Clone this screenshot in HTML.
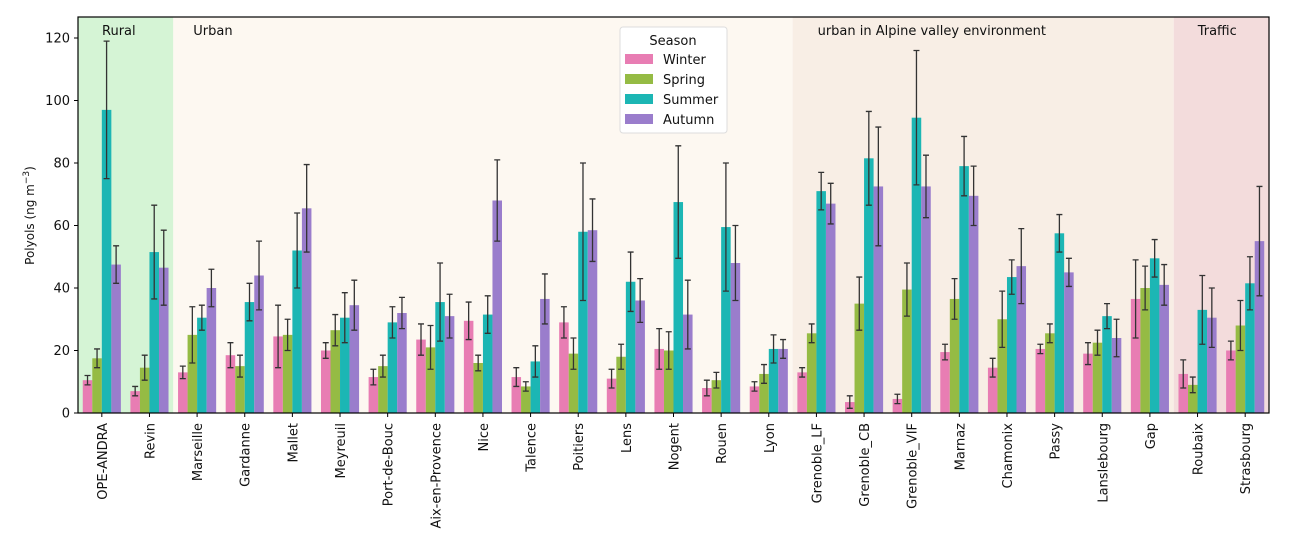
<!DOCTYPE html>
<html><head><meta charset="utf-8"><style>
body{margin:0;background:#fff;}
svg{display:block;font-family:"DejaVu Sans","Liberation Sans",sans-serif;}
</style></head><body>
<svg id="chart" width="1290" height="554"></svg>
<script>
const sites=["OPE-ANDRA","Revin","Marseille","Gardanne","Mallet","Meyreuil","Port-de-Bouc","Aix-en-Provence","Nice","Talence","Poitiers","Lens","Nogent","Rouen","Lyon","Grenoble_LF","Grenoble_CB","Grenoble_VIF","Marnaz","Chamonix","Passy","Lanslebourg","Gap","Roubaix","Strasbourg"];
const seasons=["Winter","Spring","Summer","Autumn"];
const winter=[10.5,7,13,18.5,24.5,20,11.5,23.5,29.5,11.5,29,11,20.5,8,8.5,13,3.5,4.5,19.5,14.5,20.5,19,36.5,12.5,20];
const spring=[17.5,14.5,25,15,25,26.5,15,21,16,8.5,19,18,20,10.5,12.5,25.5,35,39.5,36.5,30,25.5,22.5,40,9,28];
const summer=[97,51.5,30.5,35.5,52,30.5,29,35.5,31.5,16.5,58,42,67.5,59.5,20.5,71,81.5,94.5,79,43.5,57.5,31,49.5,33,41.5];
const autumn=[47.5,46.5,40,44,65.5,34.5,32,31,68,36.5,58.5,36,31.5,48,20.5,67,72.5,72.5,69.5,47,45,24,41,30.5,55];
const winterErr=[1.5,1.5,2,4,10,2.5,2.5,5,6,3,5,3,6.5,2.5,1.5,1.5,2,1.5,2.5,3,1.5,3.5,12.5,4.5,3];
const springErr=[3,4,9,3.5,5,5,3.5,7,2.5,1.5,5,4,6,2.5,3,3,8.5,8.5,6.5,9,3,4,7,2.5,8];
const summerErr=[22,15,4,6,12,8,5,12.5,6,5,22,9.5,18,20.5,4.5,6,15,21.5,9.5,5.5,6,4,6,11,8.5];
const autumnErr=[6,12,6,11,14,8,5,7,13,8,10,7,11,12,3,6.5,19,10,9.5,12,4.5,6,6.5,9.5,17.5];
const yTicks=[0,20,40,60,80,100,120];
const regions=[{label:"Rural",from:0,to:2,color:"#d5f4d5"},{label:"Urban",from:2,to:15,color:"#fdf8f1"},{label:"urban in Alpine  valley environment",from:15,to:23,color:"#f8eee5"},{label:"Traffic",from:23,to:25,color:"#f3dcdc"}];
const colors=["#e87db3","#95bb44","#1cb6b4","#9a7dcc"];

const svg=document.getElementById('chart');
const NS="http://www.w3.org/2000/svg";
const L=78,R=1269,T=38,B=413,yMax=120;
const step=(R-L)/sites.length;
const bw=step*0.8/4;
const X=i=>L+step*i;
const Y=v=>B-(v/yMax)*(B-T);
function mk(tag,attrs,parent){const e=document.createElementNS(NS,tag);for(const k in attrs)e.setAttribute(k,attrs[k]);(parent||svg).appendChild(e);return e;}

regions.forEach(r=>{
  const g=mk('g',{});
  
  
  mk('rect',{x:X(r.from),y:17,width:X(r.to)-X(r.from),height:B-17,fill:r.color},g);
  const x0=X(r.from)+(r.label.length>10?25:(r.label==="Urban"?20:24));
  const t=mk('text',{x:x0,y:35,'font-size':13,fill:'#111'},g);
  t.textContent=r.label;
});

const series=[winter,spring,summer,autumn];
const errs=[winterErr,springErr,summerErr,autumnErr];
series.forEach((vals,s)=>{
  const g=mk('g',{});
  
  
  vals.forEach((v,i)=>{
    const x=X(i)+step*0.1+bw*s;
    const r=mk('rect',{x:x,y:Y(v),width:bw,height:B-Y(v),fill:colors[s]},g);
    
    
    const e=errs[s][i],cx=x+bw/2;
    const eb=mk('path',{d:`M${cx},${Y(v-e)}V${Y(v+e)}M${cx-3},${Y(v-e)}h6M${cx-3},${Y(v+e)}h6`,stroke:'#333','stroke-width':1.3,fill:'none'},g);
    
    
  });
});

// axes frame
const fr=mk('rect',{x:L,y:17,width:R-L,height:B-17,fill:'none',stroke:'#000','stroke-width':1.2});



const ya=mk('g',{});


yTicks.forEach(t=>{
  mk('line',{x1:L-4,x2:L,y1:Y(t),y2:Y(t),stroke:'#000'},ya);
  const tx=mk('text',{x:L-8,y:Y(t)+4.5,'font-size':13,'text-anchor':'end',fill:'#111'},ya);
  tx.textContent=t;
});
const yt=mk('text',{x:0,y:0,'font-size':12,'text-anchor':'middle',fill:'#111',transform:`translate(34,${(T+B)/2-10}) rotate(-90)`});


yt.innerHTML='Polyols (ng m<tspan dy="-5" font-size="9">−3</tspan><tspan dy="5">)</tspan>';

const xa=mk('g',{});


sites.forEach((s,i)=>{
  const cx=X(i)+step/2;
  mk('line',{x1:cx,x2:cx,y1:B,y2:B+4,stroke:'#000'},xa);
  const t=mk('text',{x:0,y:0,'font-size':13,'text-anchor':'end',fill:'#111',transform:`translate(${cx+5},${B+10}) rotate(-90)`},xa);
  t.textContent=s;
});

// legend
const lg=mk('g',{});


mk('rect',{x:620,y:27,width:107,height:106,rx:3,fill:'#fff',stroke:'#ddd'},lg);
const lt=mk('text',{x:673,y:45,'font-size':13,'text-anchor':'middle',fill:'#111'},lg);
lt.textContent='Season';
seasons.forEach((s,k)=>{
  const yy=59+k*20;
  const e=mk('g',{},lg);
  
  
  mk('rect',{x:625,y:yy-5,width:28,height:10,fill:colors[k]},e);
  const t=mk('text',{x:663,y:yy+5,'font-size':13,fill:'#111'},e);
  t.textContent=s;
});
</script>
</body></html>
